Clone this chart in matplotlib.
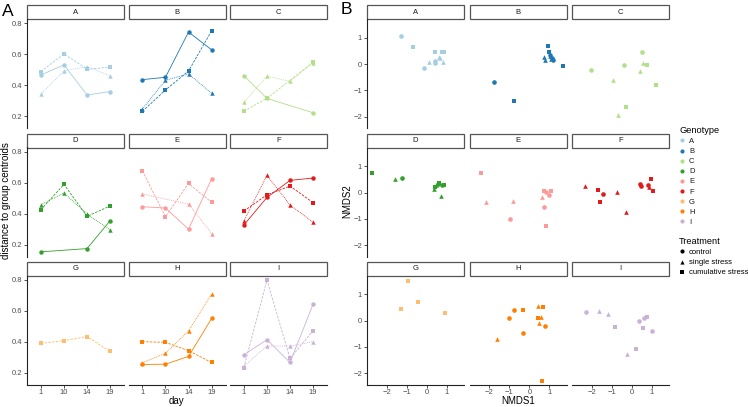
import numpy as np
import matplotlib
matplotlib.use("Agg")
import matplotlib.pyplot as plt
from matplotlib.lines import Line2D
from matplotlib.patches import Rectangle

plt.rcParams["font.family"] = ["Liberation Sans", "DejaVu Sans"]

nan = np.nan
days = ["1", "10", "14", "19"]
genotypes = ["A", "B", "C", "D", "E", "F", "G", "H", "I"]
colors = ["#a6cee3", "#1f78b4", "#b2df8a", "#33a02c", "#fb9a99",
          "#e31a1c", "#fdbf6f", "#ff7f00", "#cab2d6"]
treatments = ["control", "single stress", "cumulative stress"]

# distance to group centroids (panel A), per genotype, days 1/10/14/19
dist_control = {
    "A": [0.465, 0.530, 0.336, 0.358], "B": [0.435, 0.450, 0.742, 0.627],
    "C": [0.461, 0.314, nan, 0.221], "D": [0.153, nan, 0.174, 0.354],
    "E": [0.444, 0.436, 0.299, 0.624], "F": [0.326, 0.504, 0.614, 0.629],
    "G": [nan, nan, nan, nan], "H": [0.252, 0.254, 0.304, 0.549],
    "I": [0.315, 0.412, 0.265, 0.642]}
dist_single = {
    "A": [0.342, 0.491, 0.519, 0.459], "B": [0.245, 0.431, 0.472, 0.347],
    "C": [0.288, 0.457, 0.424, 0.545], "D": [0.457, 0.532, 0.397, 0.294],
    "E": [0.526, nan, 0.461, 0.271], "F": [0.352, 0.646, 0.455, 0.344],
    "G": [nan, nan, nan, nan], "H": [0.263, 0.324, 0.469, 0.707],
    "I": [0.241, 0.371, 0.371, 0.399]}
dist_cumulative = {
    "A": [0.487, 0.601, 0.502, 0.515], "B": [0.230, 0.368, 0.491, 0.750],
    "C": [0.232, 0.314, nan, 0.548], "D": [0.425, 0.588, 0.382, 0.449],
    "E": [0.676, 0.380, 0.594, 0.472], "F": [0.416, 0.521, 0.577, 0.470],
    "G": [0.388, 0.406, 0.432, 0.336], "H": [0.399, 0.395, 0.341, 0.265],
    "I": [0.232, 0.796, 0.291, 0.471]}

# NMDS coordinates (panel B)
nmds_control = {
    "A": [(-1.31, 1.06), (-0.16, -0.17), (0.40, 0.12), (0.42, 0.02)],
    "B": [(-1.76, -0.67), (1.01, 0.33), (1.11, 0.21), (1.17, 0.17)],
    "C": [(0.50, 0.47), (-0.37, -0.05), (-2.03, -0.24)],
    "D": [(-1.24, 0.55), (0.55, 0.32), (0.75, 0.28)],
    "E": [(-0.95, -1.00), (0.73, -0.55), (0.96, -0.08), (0.85, 0.02)],
    "F": [(-1.44, -0.04), (0.40, 0.34), (0.47, 0.25), (0.78, 0.30)],
    "G": [],
    "H": [(-0.76, 0.39), (-1.01, 0.10), (0.76, -0.20), (-0.33, -0.49)],
    "I": [(-2.29, 0.32), (0.34, -0.01), (1.00, -0.41), (0.60, 0.09)]}
nmds_single = {
    "A": [(0.12, 0.06), (0.65, 0.21), (0.81, 0.09), (0.60, 0.28)],
    "B": [(0.71, 0.25), (0.78, 0.14), (1.05, 0.30), (1.10, 0.20)],
    "C": [(0.57, 0.02), (0.42, -0.27), (-0.93, -0.62), (-0.71, -1.94)],
    "D": [(-1.60, 0.50), (0.35, 0.15), (0.45, 0.30), (0.70, -0.14)],
    "E": [(-2.14, -0.37), (-0.80, -0.34), (0.63, -0.18)],
    "F": [(-2.35, 0.25), (-0.73, 0.02), (-0.29, -0.74), (0.87, 0.21)],
    "G": [],
    "H": [(0.45, 0.55), (0.60, 0.12), (0.48, -0.09), (-1.62, -0.72)],
    "I": [(-1.62, 0.36), (-1.19, 0.24), (-0.24, -1.28)]}
nmds_cumulative = {
    "A": [(-0.68, 0.63), (0.42, 0.46), (0.75, 0.44), (0.85, 0.44)],
    "B": [(-0.75, -1.40), (0.91, 0.69), (0.98, 0.45), (1.67, -0.08)],
    "C": [(0.76, -0.03), (1.19, -0.81), (-0.27, -1.63)],
    "D": [(-2.75, 0.75), (0.60, 0.38), (0.85, 0.30), (0.40, 0.22)],
    "E": [(-2.40, 0.76), (0.85, -1.27), (0.71, 0.05), (1.06, 0.06)],
    "F": [(-1.71, 0.11), (-1.57, -0.36), (0.95, 0.50), (1.03, 0.05)],
    "G": [(-0.95, 1.49), (-0.43, 0.70), (-1.31, 0.44), (0.88, 0.28)],
    "H": [(-0.31, 0.39), (0.68, 0.50), (0.43, 0.09), (0.62, -2.29)],
    "I": [(-0.83, -0.24), (0.76, 0.15), (0.58, -0.29), (0.19, -1.10)]}

markers = {"control": "o", "single stress": "^", "cumulative stress": "s"}
lstyles = {"control": "-", "single stress": (0, (1, 1.2)), "cumulative stress": (0, (3, 1.5))}
dist_by_t = {"control": dist_control, "single stress": dist_single,
             "cumulative stress": dist_cumulative}
nmds_by_t = {"control": nmds_control, "single stress": nmds_single,
             "cumulative stress": nmds_cumulative}

W, H = 748, 407
fig = plt.figure(figsize=(W / 100, H / 100), dpi=100)

TICK_COL = "#4d4d4d"
FS_TICK = 5.5


def px_axes(x, y, w, h):
    return fig.add_axes([x / W, 1 - (y + h) / H, w / W, h / H])


def strip(x, y, w, h, label):
    sa = px_axes(x, y, w, h)
    sa.set_xlim(0, 1)
    sa.set_ylim(0, 1)
    sa.axis("off")
    sa.add_patch(Rectangle((0, 0), 1, 1, transform=sa.transAxes, facecolor="white",
                           edgecolor="#555555", lw=0.9, clip_on=False))
    sa.text(0.5, 0.5, label, ha="center", va="center", fontsize=5.5, color="#1a1a1a")


def style_axis(ax, left, bottom):
    for s in ["top", "right"]:
        ax.spines[s].set_visible(False)
    ax.spines["left"].set_visible(left)
    ax.spines["bottom"].set_visible(bottom)
    for s in ["left", "bottom"]:
        ax.spines[s].set_linewidth(0.8)
        ax.spines[s].set_color("#222222")
    ax.tick_params(axis="both", length=2, width=0.6, color="#333333",
                   labelsize=FS_TICK, labelcolor=TICK_COL, pad=1.5)
    if not left:
        ax.tick_params(axis="y", left=False, labelleft=False)
    if not bottom:
        ax.tick_params(axis="x", bottom=False, labelbottom=False)
    ax.patch.set_alpha(0)


row_tops = [19, 147.5, 275.5]
PH = 109
PW = 97
left_cols = [27, 128.5, 230]
right_cols = [367, 469.5, 572]
SH = 14

xpos = np.arange(len(days))
for i, g in enumerate(genotypes):
    r, c = divmod(i, 3)
    # Panel A
    x0, y0 = left_cols[c], row_tops[r]
    strip(x0, y0 - SH, PW, SH, g)
    ax = px_axes(x0, y0, PW, PH)
    for t in treatments:
        vals = np.array(dist_by_t[t][g], dtype=float)
        ok = ~np.isnan(vals)
        if ok.sum() == 0:
            continue
        ax.plot(xpos[ok], vals[ok], color=colors[i], lw=0.6, ls=lstyles[t],
                marker=markers[t], ms=3.2, mew=0)
    ax.set_xlim(-0.6, 3.6)
    ax.set_ylim(0.123, 0.826)
    ax.set_xticks(xpos)
    ax.set_xticklabels(days)
    ax.set_yticks([0.2, 0.4, 0.6, 0.8])
    ax.set_yticklabels(["0.2", "0.4", "0.6", "0.8"])
    style_axis(ax, c == 0, r == 2)

    # Panel B
    x0 = right_cols[c]
    strip(x0, y0 - SH, PW, SH, g)
    bx = px_axes(x0, y0, PW, PH)
    for t in treatments:
        pts = nmds_by_t[t][g]
        if not pts:
            continue
        xs = [p[0] for p in pts]
        ys = [p[1] for p in pts]
        bx.scatter(xs, ys, color=colors[i], marker=markers[t], s=11, linewidths=0)
    bx.set_xlim(-2.98, 1.85)
    bx.set_ylim(-2.43, 1.71)
    bx.set_xticks([-2, -1, 0, 1])
    bx.set_yticks([-2, -1, 0, 1])
    style_axis(bx, c == 0, r == 2)

# axis titles and panel labels
fig.text(176 / W, 1 - 401 / H, "day", ha="center", va="center", fontsize=7)
fig.text(518 / W, 1 - 401 / H, "NMDS1", ha="center", va="center", fontsize=7)
fig.text(6 / W, 1 - 201 / H, "distance to group centroids", rotation=90,
         ha="center", va="center", fontsize=7)
fig.text(347 / W, 1 - 201 / H, "NMDS2", rotation=90, ha="center", va="center", fontsize=7)
fig.text(2 / W, 1 - 11 / H, "A", ha="left", va="center", fontsize=12.5)
fig.text(341 / W, 1 - 9 / H, "B", ha="left", va="center", fontsize=12.5)

# legends
g_handles = [Line2D([], [], ls="none", marker="o", color=colors[i], ms=3.0, mew=0)
             for i in range(len(genotypes))]
leg1 = fig.legend(g_handles, genotypes, title="Genotype", loc="upper left",
                  bbox_to_anchor=(679 / W, 1 - 126 / H), frameon=False,
                  fontsize=5.5, title_fontsize=6.7, handlelength=0.7,
                  handletextpad=0.6, labelspacing=0.36, borderpad=0.0,
                  borderaxespad=0)
leg1._legend_box.align = "left"
for txt in leg1.get_texts():
    txt.set_color("#1a1a1a")
t_handles = [Line2D([], [], ls="none", marker=markers[t], color="black", ms=3.0, mew=0)
             for t in treatments]
leg2 = fig.legend(t_handles, treatments, title="Treatment", loc="upper left",
                  bbox_to_anchor=(679 / W, 1 - 237 / H), frameon=False,
                  fontsize=5.5, title_fontsize=6.7, handlelength=0.7,
                  handletextpad=0.6, labelspacing=0.36, borderpad=0.0,
                  borderaxespad=0)
leg2._legend_box.align = "left"

fig.savefig("out.png", dpi=100)
